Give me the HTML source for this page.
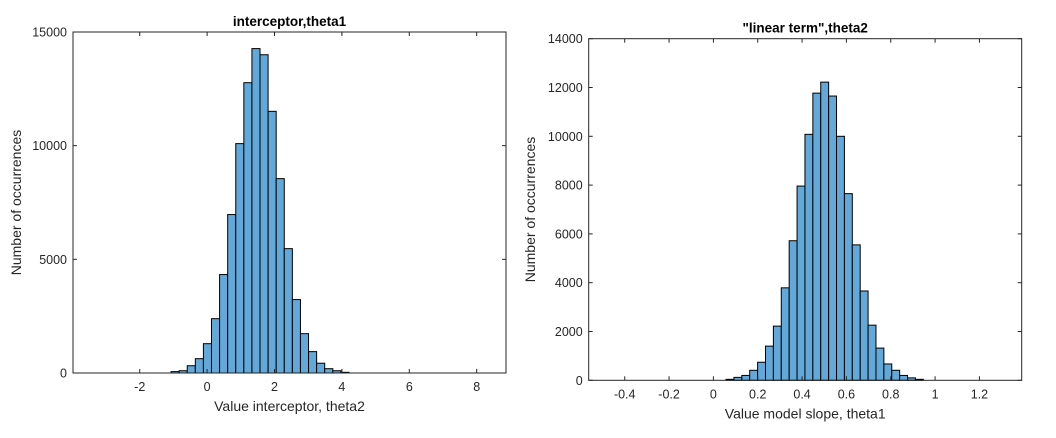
<!DOCTYPE html>
<html><head><meta charset="utf-8"><style>
body{margin:0;background:#fff;}
svg{display:block;font-family:"Liberation Sans",Arial,sans-serif;}
</style></head><body>
<svg id="chart" width="1056" height="438" viewBox="0 0 1056 438" xmlns="http://www.w3.org/2000/svg">
<rect width="1056" height="438" fill="#fff"/>
</svg>
<script>
const leftCounts=[60,100,320,630,1290,2390,4330,6970,10090,12770,14270,14000,11510,8550,5470,3230,1730,940,430,190,100,30];
const leftBinStart=-1.07, leftBinWidth=0.24;
const leftXTicks=[-2,0,2,4,6,8];
const leftYTicks=[0,5000,10000,15000];
const rightCounts=[40,120,200,410,740,1400,2220,3790,5720,7960,10080,11770,12220,11650,10000,7650,5550,3660,2260,1320,670,410,200,100,40];
const rightBinStart=0.057, rightBinWidth=0.0356;
const rightXTicks=[-0.4,-0.2,0,0.2,0.4,0.6,0.8,1,1.2];
const rightYTicks=[0,2000,4000,6000,8000,10000,12000,14000];

const NS="http://www.w3.org/2000/svg";
const svg=document.getElementById('chart');
function mk(tag,attrs,parent){const e=document.createElementNS(NS,tag);for(const k in attrs)e.setAttribute(k,attrs[k]);(parent||svg).appendChild(e);return e;}

function panel(o){
  const g=mk('g',{});
  
  
  const X=v=>o.x0+(v-o.xmin)/(o.xmax-o.xmin)*(o.x1-o.x0);
  const Y=v=>o.y1-(v-o.ymin)/(o.ymax-o.ymin)*(o.y1-o.y0);
  o.counts.forEach((c,i)=>{
    const a=o.binStart+i*o.binWidth, b=a+o.binWidth;
    const r=mk('rect',{x:X(a),y:Y(c),width:X(b)-X(a),height:Y(0)-Y(c),fill:'#62a8d8',stroke:'#000','stroke-width':1},g);
    
    
  });
  const box=mk('rect',{x:o.x0,y:o.y0,width:o.x1-o.x0,height:o.y1-o.y0,fill:'none',stroke:'#262626','stroke-width':1},g);
  
  
  o.xticks.forEach(t=>{
    const x=X(t);
    mk('line',{x1:x,x2:x,y1:o.y1,y2:o.y1-4,stroke:'#262626'},g);
    mk('line',{x1:x,x2:x,y1:o.y0,y2:o.y0+4,stroke:'#262626'},g);
    const tx=mk('text',{x:x,y:o.y1+18,'text-anchor':'middle','font-size':12.5,fill:'#262626'},g);
    tx.textContent=String(t);
    
    
  });
  o.yticks.forEach(t=>{
    const y=Y(t);
    mk('line',{x1:o.x0,x2:o.x0+4,y1:y,y2:y,stroke:'#262626'},g);
    mk('line',{x1:o.x1,x2:o.x1-4,y1:y,y2:y,stroke:'#262626'},g);
    const tx=mk('text',{x:o.x0-6,y:y+4.5,'text-anchor':'end','font-size':12.5,fill:'#262626'},g);
    tx.textContent=String(t);
    
    
  });
  const ti=mk('text',{x:(o.x0+o.x1)/2,y:o.y0-6,'text-anchor':'middle','font-size':13.5,'font-weight':'bold',fill:'#000'},g);
  ti.textContent=o.title;
  
  
  const xl=mk('text',{x:(o.x0+o.x1)/2,y:o.y1+38,'text-anchor':'middle','font-size':14,fill:'#262626'},g);
  xl.textContent=o.xlabel;
  
  
  const yc=(o.y0+o.y1)/2;
  const yl=mk('text',{x:o.ylx,y:yc,'text-anchor':'middle','font-size':14,fill:'#262626',transform:`rotate(-90 ${o.ylx} ${yc})`},g);
  yl.textContent='Number of occurrences';
  
  
}
panel({name:'intercept-histogram',x0:73,x1:506,y0:32,y1:373,xmin:-3.98,xmax:8.87,ymin:0,ymax:15000,
  counts:leftCounts,binStart:leftBinStart,binWidth:leftBinWidth,xticks:leftXTicks,yticks:leftYTicks,
  title:'interceptor,theta1',xlabel:'Value interceptor, theta2',ylx:21});
panel({name:'slope-histogram',x0:588.7,x1:1021.7,y0:38.7,y1:380.3,xmin:-0.5625,xmax:1.3907,ymin:0,ymax:14000,
  counts:rightCounts,binStart:rightBinStart,binWidth:rightBinWidth,xticks:rightXTicks,yticks:rightYTicks,
  title:'"linear term",theta2',xlabel:'Value model slope, theta1',ylx:535});
</script>
</body></html>
